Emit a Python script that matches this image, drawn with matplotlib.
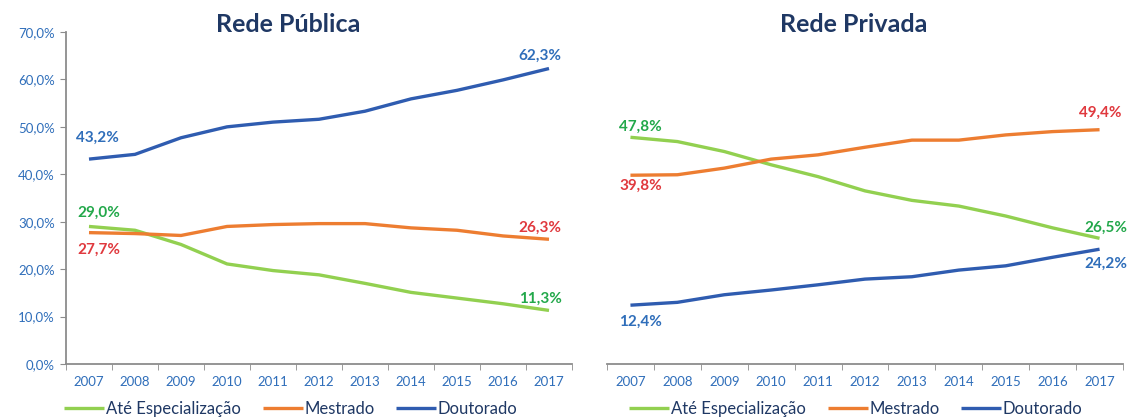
import numpy as np
import matplotlib.pyplot as plt
from matplotlib.ticker import FuncFormatter

plt.rcParams['font.family'] = ['Lato', 'DejaVu Sans']

anos = ['2007', '2008', '2009', '2010', '2011', '2012', '2013', '2014', '2015', '2016', '2017']

# Rede Pública (%)
pub_espec = [29.0, 28.2, 25.2, 21.1, 19.7, 18.8, 17.0, 15.1, 13.9, 12.7, 11.3]
pub_mestr = [27.7, 27.5, 27.1, 29.0, 29.4, 29.6, 29.6, 28.7, 28.2, 27.0, 26.3]
pub_dout = [43.2, 44.2, 47.7, 50.0, 51.0, 51.6, 53.3, 55.9, 57.7, 59.9, 62.3]

# Rede Privada (%)
priv_espec = [47.8, 46.9, 44.8, 42.0, 39.5, 36.5, 34.5, 33.3, 31.2, 28.7, 26.5]
priv_mestr = [39.8, 39.9, 41.3, 43.2, 44.1, 45.7, 47.2, 47.2, 48.3, 49.0, 49.4]
priv_dout = [12.4, 13.0, 14.6, 15.6, 16.7, 17.9, 18.4, 19.8, 20.7, 22.5, 24.2]

series_nomes = ['Até Especialização', 'Mestrado', 'Doutorado']
cores_linha = ['#92D050', '#ED7D31', '#2F5CB0']
cores_rotulo = ['#22A84A', '#E0393E', '#2F6EBA']
azul_tick = '#2F6EBA'
navy = '#1F3864'
cinza = '#8C8C8C'

fig = plt.figure(figsize=(11.34, 4.17), dpi=100)
ax1 = fig.add_axes([66/1134, 53/417, 506/1134, 332/417])
ax2 = fig.add_axes([607/1134, 53/417, 516/1134, 332/417])

x = np.arange(len(anos))


def estilo(ax, mostrar_y):
    ax.set_xlim(-0.5, len(anos) - 0.5)
    ax.set_ylim(0, 70)
    ax.set_xticks(x)
    ax.set_xticklabels(anos)
    ax.set_xticks(np.arange(-0.5, len(anos)), minor=True)
    ax.tick_params(axis='x', which='major', length=0, pad=9,
                   labelsize=9.5, labelcolor=azul_tick)
    ax.tick_params(axis='x', which='minor', length=4, color=cinza)
    for s in ['top', 'right']:
        ax.spines[s].set_visible(False)
    ax.spines['bottom'].set_color(cinza)
    ax.spines['bottom'].set_linewidth(1.3)
    if mostrar_y:
        ax.set_yticks(np.arange(0, 71, 10))
        ax.yaxis.set_major_formatter(FuncFormatter(lambda v, p: f'{v:.1f}%'.replace('.', ',')))
        ax.tick_params(axis='y', length=4, color=cinza, labelsize=9.5,
                       labelcolor=azul_tick, pad=4)
        ax.spines['left'].set_color(cinza)
        ax.spines['left'].set_linewidth(1.3)
    else:
        ax.spines['left'].set_visible(False)
        ax.set_yticks([])


def rotulo(ax, i, v, cor, dx, dy):
    ax.annotate(f'{v:.1f}%'.replace('.', ','), (x[i], v), xytext=(dx, dy),
                textcoords='offset pixels', ha='center', va='center',
                fontsize=11, fontweight='bold', color=cor)


for ax, dados in [(ax1, [pub_espec, pub_mestr, pub_dout]),
                  (ax2, [priv_espec, priv_mestr, priv_dout])]:
    for serie, nome, cor in zip(dados, series_nomes, cores_linha):
        ax.plot(x, serie, color=cor, lw=2.4, label=nome, solid_capstyle='butt')

estilo(ax1, True)
estilo(ax2, False)

# rótulos Rede Pública
rotulo(ax1, 0, pub_dout[0], cores_rotulo[2], 8, 21)
rotulo(ax1, 10, pub_dout[10], cores_rotulo[2], -9, 13)
rotulo(ax1, 0, pub_espec[0], cores_rotulo[0], 10, 14)
rotulo(ax1, 0, pub_mestr[0], cores_rotulo[1], 10, -17)
rotulo(ax1, 10, pub_mestr[10], cores_rotulo[1], -9, 11)
rotulo(ax1, 10, pub_espec[10], cores_rotulo[0], -9, 12)

# rótulos Rede Privada
rotulo(ax2, 0, priv_espec[0], cores_rotulo[0], 10, 10)
rotulo(ax2, 0, priv_mestr[0], cores_rotulo[1], 10, -11)
rotulo(ax2, 10, priv_mestr[10], cores_rotulo[1], 1, 17)
rotulo(ax2, 10, priv_espec[10], cores_rotulo[0], 6, 11)
rotulo(ax2, 10, priv_dout[10], cores_rotulo[2], 6, -15)
rotulo(ax2, 0, priv_dout[0], cores_rotulo[2], 10, -17)

fig.text(288/1134, 1 - 25/417, 'Rede Pública', ha='center', va='center',
         fontsize=18, fontweight='bold', color=navy)
fig.text(854/1134, 1 - 25/417, 'Rede Privada', ha='center', va='center',
         fontsize=18, fontweight='bold', color=navy)

for ax, cx in [(ax1, 291), (ax2, 856)]:
    h, l = ax.get_legend_handles_labels()
    fig.legend(h, l, loc='center', bbox_to_anchor=(cx/1134, 1 - 409/417), ncol=3,
               frameon=False, fontsize=12, labelcolor=navy, handlelength=2.4,
               handletextpad=0.1, columnspacing=1.3)

fig.savefig('out.png', dpi=100)
